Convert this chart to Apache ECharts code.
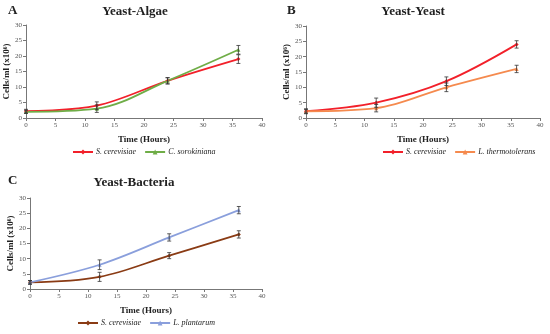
<!DOCTYPE html>
<html><head><meta charset="utf-8">
<script src="https://cdn.jsdelivr.net/npm/echarts@6/dist/echarts.min.js"></script>
<style>html,body{margin:0;padding:0;background:#fff}#c{width:550px;height:334px}</style>
</head><body><div id="c"></div>
<script>
var times = [0, 12, 24, 36];
var xTicks = [0, 5, 10, 15, 20, 25, 30, 35, 40];
var yTicks = [0, 5, 10, 15, 20, 25, 30];

var panelTitles = ['Yeast-Algae', 'Yeast-Yeast', 'Yeast-Bacteria'];
var panelLetters = ['A', 'B', 'C'];

var aNames = ['S. cerevisiae', 'C. sorokiniana'];
var aScer = [2.2, 4, 12, 19];
var aScerErr = [0.6, 1.2, 1.0, 1.4];
var aCsor = [2.0, 3, 12, 22];
var aCsorErr = [0.5, 1.2, 1.0, 1.4];

var bNames = ['S. cerevisiae', 'L. thermotolerans'];
var bScer = [2.2, 5, 12, 24];
var bScerErr = [0.8, 1.5, 1.4, 1.2];
var bLthe = [2.2, 3.2, 10, 16];
var bLtheErr = [0.6, 1.2, 1.4, 1.2];

var cNames = ['S. cerevisiae', 'L. plantarum'];
var cScer = [2.2, 4, 11, 18];
var cScerErr = [0.6, 1.5, 1.0, 1.2];
var cLpla = [2.2, 8, 17, 26];
var cLplaErr = [0.6, 1.6, 1.2, 1.2];

var panels = [
  {grid:{left:26, top:25, width:236, height:93}, title:[135,5], letter:[8,4], legendTop:148,
   series:[{name:aNames[0], v:aScer, e:aScerErr, color:'#F2202A', sym:'diamond'},
           {name:aNames[1], v:aCsor, e:aCsorErr, color:'#6FAD47', sym:'triangle'}]},
  {grid:{left:306, top:26, width:234, height:92}, title:[413,5], letter:[287,4], legendTop:148,
   series:[{name:bNames[0], v:bScer, e:bScerErr, color:'#F2202A', sym:'diamond'},
           {name:bNames[1], v:bLthe, e:bLtheErr, color:'#F58A4E', sym:'triangle'}]},
  {grid:{left:30, top:198, width:232, height:91}, title:[134,176], letter:[8,174], legendTop:319,
   series:[{name:cNames[0], v:cScer, e:cScerErr, color:'#8A3B14', sym:'diamond'},
           {name:cNames[1], v:cLpla, e:cLplaErr, color:'#8A9FDC', sym:'triangle'}]}
];

var font = 'Liberation Serif';
var opt = {animation:false, backgroundColor:'#fff', grid:[], xAxis:[], yAxis:[], series:[], legend:[], graphic:[]};

panels.forEach(function(p, i){
  opt.grid.push(p.grid);
  opt.xAxis.push({gridIndex:i, type:'value', min:0, max:40, interval:5,
    name:'Time (Hours)', nameLocation:'middle', nameGap:17,
    nameTextStyle:{fontFamily:font, fontSize:9, fontWeight:'bold', color:'#222'},
    axisLine:{lineStyle:{color:'#777', width:1}}, axisTick:{show:true, length:3, lineStyle:{color:'#777'}},
    axisLabel:{fontFamily:font, fontSize:7, color:'#555', margin:4,
      formatter:function(v){return xTicks.indexOf(v)>=0?String(v):'';}},
    splitLine:{show:false}});
  opt.yAxis.push({gridIndex:i, type:'value', min:0, max:30, interval:5,
    name:'Cells/ml (x10\u2076)', nameLocation:'middle', nameGap:12,
    nameTextStyle:{fontFamily:font, fontSize:9, fontWeight:'bold', color:'#222'},
    axisLine:{show:true, lineStyle:{color:'#777', width:1}}, axisTick:{show:true, length:3, lineStyle:{color:'#777'}},
    axisLabel:{fontFamily:font, fontSize:7, color:'#555', margin:4,
      formatter:function(v){return yTicks.indexOf(v)>=0?String(v):'';}},
    splitLine:{show:false}});
  var legendNames = [];
  p.series.forEach(function(s){
    legendNames.push(s.name + '#' + i);
    opt.series.push({name:s.name + '#' + i, type:'line', xAxisIndex:i, yAxisIndex:i, smooth:0.35,
      data:times.map(function(t,k){return [t, s.v[k]];}),
      symbol:s.sym, symbolSize:4, showSymbol:true,
      lineStyle:{color:s.color, width:1.8}, itemStyle:{color:s.color}, z:3});
    opt.series.push({type:'custom', xAxisIndex:i, yAxisIndex:i, z:4, silent:true,
      data:times.map(function(t,k){return [t, s.v[k]-s.e[k], s.v[k]+s.e[k]];}),
      renderItem:function(params, api){
        var lo = api.coord([api.value(0), api.value(1)]);
        var hi = api.coord([api.value(0), api.value(2)]);
        var w = 2;
        var st = {stroke:'#333', lineWidth:0.8};
        return {type:'group', children:[
          {type:'line', shape:{x1:lo[0], y1:lo[1], x2:hi[0], y2:hi[1]}, style:st},
          {type:'line', shape:{x1:lo[0]-w, y1:lo[1], x2:lo[0]+w, y2:lo[1]}, style:st},
          {type:'line', shape:{x1:hi[0]-w, y1:hi[1], x2:hi[0]+w, y2:hi[1]}, style:st}
        ]};
      }});
  });
  opt.legend.push({data:legendNames, left:p.grid.left + p.grid.width/2, top:p.legendTop,
    orient:'horizontal', itemWidth:20, itemHeight:6, itemGap:8, padding:0,
    formatter:function(n){return n.split('#')[0];},
    textStyle:{fontFamily:font, fontSize:8, fontStyle:'italic', color:'#222', padding:[0,0,0,-2]},
    selectedMode:false});
  opt.graphic.push({type:'text', x:p.title[0], y:p.title[1],
    style:{text:panelTitles[i], font:'bold 13px "Liberation Serif"', fill:'#222', textAlign:'center', textVerticalAlign:'top'}});
  opt.graphic.push({type:'text', x:p.letter[0], y:p.letter[1],
    style:{text:panelLetters[i], font:'bold 13px "Liberation Serif"', fill:'#222', textVerticalAlign:'top'}});
});

var chart = echarts.init(document.getElementById('c'), null, {renderer:'canvas'});
chart.setOption(opt);
opt.legend.forEach(function(l, i){
  var m = chart.getModel().getComponent('legend', i);
  var view = chart.getViewOfComponentModel(m);
  var r = view.group.getBoundingRect();
  var cx = panels[i].grid.left + panels[i].grid.width/2;
  l.left = Math.round(cx - r.width/2);
});
chart.setOption({legend:opt.legend});
</script></body></html>
